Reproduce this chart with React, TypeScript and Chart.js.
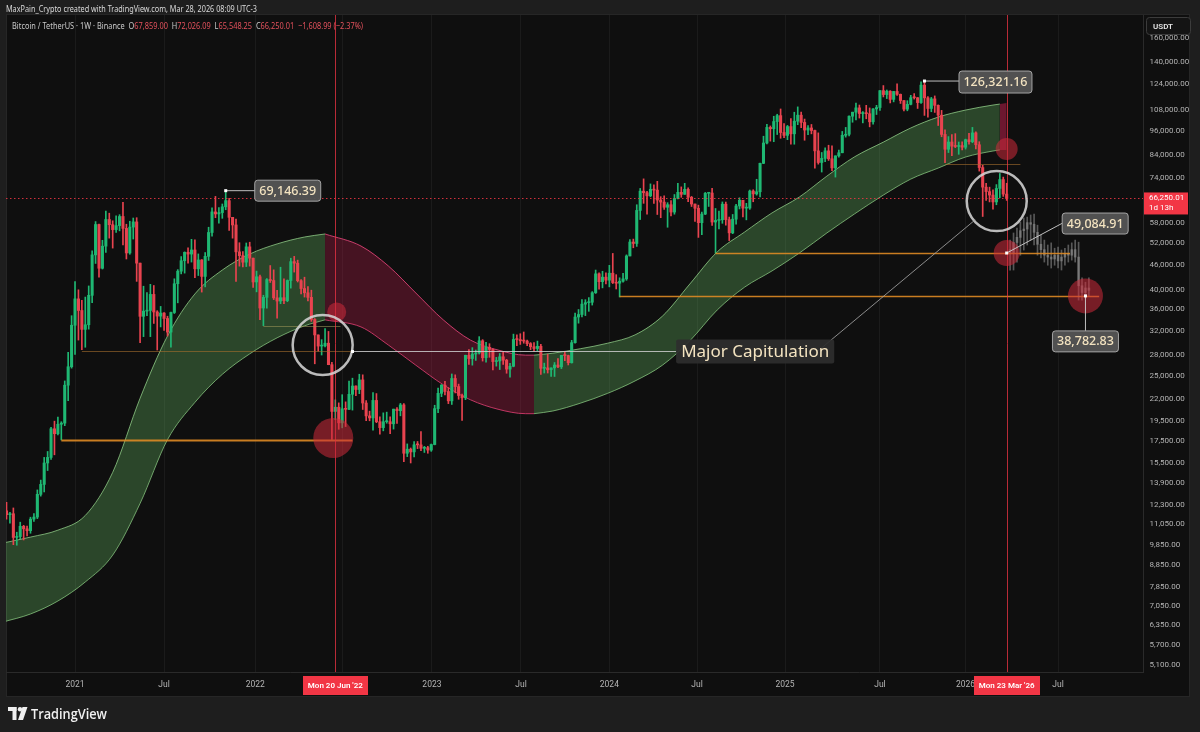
import React, { useEffect, useRef } from "react";
import { Chart, registerables } from "chart.js";

Chart.register(...registerables);

// ================= DATA =================
// Weekly BTC/USDT candles (Binance, 1W). Week 0 = Mon 17 Aug 2020. Values in thousands of USDT.
const FIRST_OPEN_K = 11.9;

const weeklyCloseK = [
  // 2020 (w0..19)
  11.65, 11.71, 10.28, 10.33, 10.93, 10.78, 10.67, 11.37, 11.5, 13.03, 13.76, 15.48, 15.96, 18.68, 18.18, 19.15, 19.27, 23.74, 26.27, 33.0,
  // 2021 (w20..71)
  38.15, 35.79, 32.26, 33.09, 38.9, 48.58, 57.41, 45.14, 50.97, 59.02, 57.35, 55.82, 57.06, 60.0, 56.2, 49.1, 56.6, 58.24, 46.43, 34.66,
  35.66, 35.8, 39.1, 35.5, 34.7, 35.29, 34.25, 31.78, 35.4, 41.46, 44.42, 47.05, 49.27, 48.8, 49.92, 45.0, 47.25, 43.16, 48.2, 54.95,
  61.53, 60.85, 61.3, 63.27, 65.47, 59.72, 57.27, 49.4, 48.38, 46.68, 50.78, 47.72,
  // 2022 (w72..123)
  41.86, 43.08, 36.28, 38.47, 42.41, 42.2, 38.36, 37.7, 38.4, 37.78, 42.2, 46.82, 46.41, 42.16, 40.38, 39.45, 38.47, 34.07, 31.29, 29.43,
  29.47, 29.9, 26.57, 20.55, 21.03, 19.3, 20.85, 20.79, 22.58, 23.63, 23.18, 24.44, 21.52, 20.05, 19.83, 21.83, 19.42, 18.8, 19.42, 19.42,
  19.2, 20.81, 20.63, 21.3, 16.33, 16.7, 16.45, 17.11, 17.1, 16.78, 16.84, 16.62,
  // 2023 (w124..175)
  17.13, 20.87, 22.7, 23.74, 22.93, 21.78, 24.63, 23.56, 22.43, 22.15, 27.98, 27.48, 28.17, 28.33, 30.3, 27.6, 29.23, 28.9, 27.03, 27.12,
  27.75, 27.23, 25.93, 26.34, 30.53, 30.5, 30.3, 30.25, 29.83, 29.33, 29.04, 29.4, 26.05, 26.1, 25.84, 26.1, 26.52, 26.26, 27.97, 27.93,
  26.86, 29.99, 34.53, 35.01, 37.06, 37.36, 37.45, 39.46, 43.78, 41.93, 42.99, 42.28,
  // 2024 (w176..227)
  43.93, 41.73, 41.58, 42.03, 42.58, 48.3, 52.14, 51.73, 62.03, 68.96, 68.37, 67.21, 69.65, 69.36, 65.67, 64.94, 63.12, 64.01, 61.48, 66.27,
  68.51, 67.77, 69.65, 66.68, 64.26, 62.77, 57.99, 60.8, 68.16, 68.26, 58.2, 58.71, 58.93, 64.2, 58.97, 54.84, 59.12, 63.58, 65.6, 62.82,
  62.85, 69.0, 67.94, 68.73, 80.37, 89.86, 97.9, 97.18, 101.11, 104.46, 95.19, 93.71,
  // 2025 (w228..279)
  98.36, 94.51, 101.3, 104.71, 100.63, 96.5, 97.6, 96.25, 86.06, 80.73, 82.58, 86.07, 82.39, 78.37, 83.73, 85.17, 93.75, 94.28, 104.12, 106.45,
  109.0, 105.64, 105.73, 105.56, 100.96, 108.38, 109.2, 119.83, 117.27, 119.45, 114.2, 119.29, 117.4, 113.49, 108.25, 111.14, 115.27, 115.23, 112.2, 123.51,
  115.17, 108.64, 114.53, 110.54, 104.72, 94.2, 86.83, 90.36, 88.3, 88.15, 88.6, 87.8,
  // 2026 (w280..291)
  91.5, 90.5, 95.0, 89.0, 78.5, 70.5, 68.8, 67.5, 65.0, 70.0, 73.5, 67.859,
];

const weeklyHighK = [
  12.47, 11.8, 12.09, 10.58, 11.18, 10.99, 10.95, 11.49, 11.72, 13.35, 14.09, 15.96, 16.49, 18.82, 19.48, 19.92, 19.42, 24.3, 28.42, 34.78,
  41.95, 40.1, 37.85, 38.53, 40.96, 49.71, 58.35, 57.53, 52.64, 61.84, 61.1, 58.6, 60.2, 60.6, 64.85, 57.5, 58.45, 59.5, 59.6, 45.8,
  40.9, 39.48, 41.33, 41.06, 35.75, 36.6, 35.4, 34.68, 35.5, 42.6, 44.8, 48.14, 49.4, 50.5, 52.92, 52.74, 48.84, 47.35, 49.22, 56.56,
  62.93, 67.0, 63.0, 64.27, 69.0, 66.28, 59.45, 59.18, 51.94, 49.5, 51.87, 52.09,
  47.57, 44.44, 43.5, 38.92, 42.66, 45.82, 44.75, 40.0, 45.4, 42.59, 42.33, 47.7, 48.19, 47.2, 42.42, 42.98, 40.8, 40.02, 34.24, 30.67,
  30.49, 32.4, 31.9, 26.9, 21.9, 21.54, 22.53, 21.66, 24.28, 24.67, 23.65, 25.21, 25.13, 21.82, 20.58, 22.8, 22.67, 19.95, 20.39, 20.47,
  19.95, 19.7, 20.99, 21.48, 21.47, 17.19, 16.81, 17.42, 17.42, 18.39, 16.96, 16.97,
  17.18, 21.26, 23.37, 23.82, 24.25, 23.42, 25.25, 25.13, 23.88, 22.6, 28.0, 28.87, 29.18, 28.8, 31.0, 30.49, 30.04, 29.82, 29.0, 27.66,
  28.26, 28.45, 27.36, 26.78, 31.43, 31.3, 31.5, 31.8, 30.4, 30.0, 30.0, 30.25, 29.7, 26.8, 28.14, 26.1, 26.89, 27.48, 27.98, 28.6,
  28.0, 30.38, 35.28, 35.98, 38.0, 37.98, 38.42, 39.7, 44.7, 44.0, 44.4, 44.0,
  45.88, 48.97, 43.58, 42.84, 43.88, 48.59, 52.82, 52.99, 64.0, 70.0, 73.78, 68.92, 71.77, 71.36, 72.8, 66.9, 67.23, 64.73, 65.5, 67.7,
  71.98, 70.6, 71.99, 70.19, 67.0, 63.37, 63.86, 61.43, 68.49, 68.25, 70.08, 62.7, 61.8, 65.0, 64.96, 59.81, 60.67, 64.13, 66.5, 65.55,
  64.5, 69.4, 69.5, 73.62, 80.5, 93.27, 99.59, 98.69, 104.09, 105.25, 108.35, 99.96,
  98.98, 102.72, 106.42, 109.59, 106.45, 102.5, 98.83, 99.5, 96.5, 95.0, 85.3, 87.45, 88.77, 88.5, 83.59, 86.42, 95.76, 97.9, 104.36, 105.82,
  111.98, 110.72, 106.8, 110.53, 108.95, 108.53, 110.53, 119.49, 123.22, 120.25, 119.8, 119.31, 124.47, 117.63, 113.5, 113.38, 116.78, 117.9, 115.4, 125.7,
  126.32116, 116.0, 115.47, 116.4, 110.8, 107.5, 96.64, 93.09, 94.15, 94.6, 90.36, 90.4,
  91.8, 94.8, 97.9, 95.5, 90.5, 79.5, 72.0, 70.5, 69.5, 71.5, 76.0, 74.5,
];

const weeklyLowK = [
  11.37, 11.12, 9.88, 9.85, 10.21, 10.14, 10.37, 10.52, 11.22, 11.4, 12.9, 13.2, 14.85, 15.79, 16.19, 18.07, 17.57, 19.0, 21.81, 26.07,
  28.13, 30.42, 28.85, 29.24, 32.3, 37.35, 46.35, 43.0, 44.95, 49.27, 53.27, 50.43, 54.97, 55.45, 51.3, 47.5, 48.75, 53.0, 42.0, 30.0,
  31.0, 34.8, 31.0, 33.33, 28.8, 32.7, 32.08, 31.1, 29.27, 35.2, 37.33, 43.77, 43.95, 46.45, 46.7, 42.84, 43.37, 39.6, 40.75, 47.12,
  53.88, 59.6, 57.8, 59.4, 62.27, 55.6, 53.26, 42.0, 45.67, 45.5, 45.56, 45.68,
  40.61, 39.65, 34.01, 32.92, 36.25, 41.75, 38.0, 34.32, 37.15, 37.16, 37.56, 40.47, 44.2, 41.86, 39.2, 38.53, 37.7, 33.71, 26.7, 28.63,
  28.02, 29.28, 26.56, 17.62, 19.64, 18.63, 18.78, 18.91, 20.76, 20.7, 22.4, 22.66, 20.77, 19.52, 19.52, 18.54, 19.32, 18.13, 18.47, 19.26,
  18.19, 18.65, 19.25, 20.06, 15.59, 16.03, 15.48, 16.0, 16.75, 16.56, 16.4, 16.33,
  16.5, 17.1, 20.4, 22.29, 22.5, 21.45, 21.35, 22.75, 21.97, 19.55, 21.92, 26.6, 26.5, 27.2, 28.17, 27.1, 26.94, 27.67, 25.81, 26.36,
  25.87, 26.61, 25.35, 24.8, 26.26, 29.5, 29.7, 29.9, 29.5, 28.86, 28.6, 28.7, 25.17, 25.38, 25.38, 24.9, 24.9, 26.12, 26.0, 27.16,
  26.53, 26.8, 29.9, 33.38, 34.56, 34.8, 35.63, 36.87, 39.3, 40.22, 40.53, 41.4,
  40.75, 41.5, 40.28, 38.55, 41.8, 42.25, 48.3, 50.52, 50.9, 59.0, 64.5, 60.77, 66.85, 64.5, 60.66, 59.6, 62.4, 56.55, 60.19, 60.75,
  66.05, 66.67, 68.58, 65.08, 63.38, 58.4, 53.48, 54.26, 60.63, 63.4, 57.12, 49.0, 56.07, 57.79, 57.2, 52.55, 54.59, 57.49, 62.54, 59.83,
  58.9, 62.4, 65.06, 67.48, 66.84, 80.22, 89.37, 90.79, 90.5, 94.15, 92.23, 92.5,
  91.53, 89.26, 89.26, 99.4, 97.78, 91.23, 94.09, 94.5, 78.26, 80.0, 76.6, 81.13, 81.64, 77.15, 74.51, 83.1, 85.15, 92.8, 93.38, 100.72,
  102.0, 103.06, 100.37, 102.66, 98.2, 99.61, 105.1, 107.47, 115.74, 114.72, 112.0, 112.65, 116.8, 111.68, 107.26, 107.26, 110.8, 114.4, 108.65, 111.7,
  104.58, 103.53, 106.7, 106.3, 98.94, 93.0, 80.6, 85.27, 83.82, 87.6, 84.45, 86.5,
  86.9, 89.3, 90.0, 87.0, 77.0, 60.0, 65.5, 65.0, 62.5, 64.0, 66.5, 67.0,
];

// Current (unfinished) weekly bar: Mon 23 Mar 2026
const CURRENT_WEEK = 292;
const LAST_OPEN = 67859.0;
const LAST_HIGH = 72026.09;
const LAST_LOW = 65548.25;
const LAST_CLOSE = 66250.01;
const BAR_COUNTDOWN = "1d 13h";

// Projected (ghost) path, weeks 293..316, thousands USDT
const GHOST_START_WEEK = 293;
const ghostOpenK = [50.0, 49.0, 52.0, 53.5, 55.5, 56.0, 58.0, 57.5, 55.0, 51.5, 50.0, 48.5, 48.0, 47.5, 48.5, 47.0, 48.0, 49.0, 48.5, 50.0, 48.0, 41.0, 39.5, 40.5];
const ghostHighK = [52.7, 54.8, 56.3, 58.2, 59.5, 59.8, 60.5, 60.8, 57.2, 54.2, 52.7, 51.3, 51.9, 50.4, 50.7, 49.9, 50.4, 51.3, 51.9, 52.7, 52.1, 42.8, 41.8, 42.8];
const ghostLowK = [44.7, 44.7, 46.7, 48.5, 49.9, 51.3, 52.7, 51.3, 48.5, 47.8, 46.7, 45.9, 45.2, 45.9, 45.2, 44.7, 45.9, 46.7, 47.2, 46.7, 37.9, 37.9, 38.3, 38.8];
const ghostCloseK = [49.0, 52.0, 53.5, 55.5, 56.0, 58.0, 57.5, 55.0, 51.5, 50.0, 48.5, 48.0, 47.5, 48.5, 47.0, 48.0, 49.0, 48.5, 50.0, 48.0, 41.0, 39.5, 40.5, 40.0];

// Cycle band (thousands USDT), four colour segments
const bandG1Weeks = [-1, 7, 15, 23, 31, 39, 47, 55, 63, 71, 79, 87, 93];
const bandG1Upper = [9.97, 10.3, 10.7, 11.6, 14.7, 22.1, 31.1, 39.2, 44.7, 48.8, 51.6, 53.6, 54.5];
const bandG1Lower = [6.46, 6.75, 7.25, 8.05, 9.33, 12.4, 17.6, 21.6, 25.2, 28.2, 30.8, 32.9, 34.0];

const bandR1Weeks = [93, 103.5, 111.5, 119.5, 127.5, 135.5, 143.5, 151.5, 154];
const bandR1Upper = [54.5, 51.0, 45.7, 39.4, 34.0, 30.4, 28.8, 28.0, 28.0];
const bandR1Lower = [34.0, 32.7, 29.6, 26.5, 23.8, 21.9, 20.8, 20.3, 20.3];

const bandG2Weeks = [154, 159.5, 167.5, 175.5, 183.5, 191.5, 199.5, 207.5, 215.5, 223.5, 231.5, 239.5, 247.5, 256, 264, 272, 280, 288, 290];
const bandG2Upper = [28.0, 28.3, 29.0, 29.9, 31.3, 34.7, 41.4, 49.4, 55.1, 61.2, 66.8, 74.9, 83.2, 90.3, 97.6, 103.6, 107.7, 110.7, 111.3];
const bandG2Lower = [20.3, 20.6, 21.5, 22.7, 24.3, 26.5, 30.3, 35.9, 40.7, 44.5, 49.1, 54.8, 60.8, 67.5, 73.7, 78.3, 83.2, 86.0, 86.5];

const bandR2Weeks = [290, 292];
const bandR2Upper = [111.3, 112.0];
const bandR2Lower = [86.5, 86.5];

// Axes
const priceTicks = [
  160000, 140000, 124000, 108000, 96000, 84000, 74000, 58000, 52000, 46000, 40000, 36000, 32000, 28000, 25000,
  22000, 19500, 17500, 15500, 13900, 12300, 11050, 9850, 8850, 7850, 7050, 6350, 5700, 5100,
];
const timeTickWeeks = [20, 46, 72.6, 98, 124.2, 150.2, 176, 201.6, 227.3, 255, 280, 307];
const timeTickLabels = ["2021", "Jul", "2022", "Jul", "2023", "Jul", "2024", "Jul", "2025", "Jul", "2026", "Jul"];
const X_MIN = -0.15;
const X_MAX = 331.8;
const Y_MIN = 4907;
const Y_MAX = 181600;

// Annotations (week index, price in USDT)
const markedWeeks = [96, 292];
const markedDateLabels = ["Mon 20 Jun '22", "Mon 23 Mar '26"];

const calloutWeeks = [64, 268, 292, 315];
const calloutPrices = [69146.39, 126321.16, 49084.91, 38782.83];

const capitulationPrice = 28650;
const capitulationFromWeek = 101;
const capitulationToWeek = 195.5;
const capitulationText = "Major Capitulation";
const diagonalWeeks = [236.9, 282.8];
const diagonalPrices = [28650, 58900];

const levelFromWeeks = [16, 207, 179, 22, 75, 274];
const levelToWeeks = [101, 310.5, 319, 101, 97.5, 296];
const levelPrices = [17600, 49000, 38700, 28650, 32900, 80000];
const levelStrong = [true, true, true, false, false, false];

const redDotWeeks = [96.4, 95.4, 292, 292, 315];
const redDotPrices = [35500, 17760, 86900, 49084.91, 38782.83];
const redDotRadii = [9.5, 20, 11, 13, 17.5];

const ringWeeks = [92.3, 289.1];
const ringPrices = [29600, 65300];

// ================= STYLE =================
const UP = "#1fb873";
const DOWN = "#e8434f";
const GHOST = "rgba(150,150,150,0.55)";
const TV_RED = "#f23645";
const CREAM = "#f3e3c0";
const AXIS_TEXT = "#b4b4b4";

function fitText(ctx: any, segs: [string, string][], x: number, y: number, width: number, font: string) {
  ctx.save();
  ctx.font = font;
  const total = segs.reduce((s, [t]) => s + ctx.measureText(t).width, 0);
  const sx = width / total;
  ctx.translate(x, y);
  ctx.scale(sx, 1);
  ctx.textAlign = "left";
  ctx.textBaseline = "alphabetic";
  let cx = 0;
  for (const [t, c] of segs) {
    ctx.fillStyle = c;
    ctx.fillText(t, cx, 0);
    cx += ctx.measureText(t).width;
  }
  ctx.restore();
}

function roundRect(ctx: any, x: number, y: number, w: number, h: number, r: number) {
  ctx.beginPath();
  ctx.moveTo(x + r, y);
  ctx.lineTo(x + w - r, y);
  ctx.quadraticCurveTo(x + w, y, x + w, y + r);
  ctx.lineTo(x + w, y + h - r);
  ctx.quadraticCurveTo(x + w, y + h, x + w - r, y + h);
  ctx.lineTo(x + r, y + h);
  ctx.quadraticCurveTo(x, y + h, x, y + h - r);
  ctx.lineTo(x, y + r);
  ctx.quadraticCurveTo(x, y, x + r, y);
  ctx.closePath();
}

function drawCallout(ctx: any, text: string, bx: number, by: number, bw: number, bh: number) {
  roundRect(ctx, bx, by, bw, bh, 3);
  ctx.fillStyle = "rgba(84,84,84,0.96)";
  ctx.fill();
  ctx.strokeStyle = "rgba(175,175,175,0.9)";
  ctx.lineWidth = 1;
  ctx.stroke();
  ctx.fillStyle = CREAM;
  ctx.font = '500 12.5px "Noto Sans"';
  ctx.textAlign = "center";
  ctx.textBaseline = "middle";
  ctx.fillText(text, bx + bw / 2, by + bh / 2 + 0.5);
}

function dot(ctx: any, x: number, y: number) {
  ctx.fillStyle = "#ffffff";
  ctx.fillRect(x - 1.5, y - 1.5, 3, 3);
}

const decor = {
  id: "decor",
  beforeDraw(chart: any) {
    const { ctx, width, height } = chart;
    ctx.save();
    ctx.fillStyle = "#1e1e1e";
    ctx.fillRect(0, 0, width, height);
    ctx.fillStyle = "#0f0f0f";
    ctx.fillRect(6, 14, 1184, 683);
    ctx.strokeStyle = "#262626";
    ctx.lineWidth = 1;
    ctx.strokeRect(6.5, 14.5, 1183, 682);
    ctx.restore();
  },
  afterDatasetsDraw(chart: any) {
    const { ctx, chartArea: ca } = chart;
    const xs = chart.scales.x;
    const ys = chart.scales.y;
    const X = (w: number) => xs.getPixelForValue(w);
    const Y = (p: number) => ys.getPixelForValue(p);
    ctx.save();
    ctx.beginPath();
    ctx.rect(ca.left, ca.top, ca.right - ca.left, ca.bottom - ca.top);
    ctx.clip();

    // horizontal levels
    levelPrices.forEach((p, i) => {
      const strong = levelStrong[i];
      ctx.strokeStyle = strong ? "rgba(222,138,36,0.9)" : i === 4 ? "rgba(150,145,85,0.6)" : "rgba(165,110,45,0.6)";
      ctx.lineWidth = strong ? (i === 0 ? 2 : 1.6) : 1;
      ctx.beginPath();
      ctx.moveTo(X(levelFromWeeks[i]), Math.round(Y(p)) + 0.5);
      ctx.lineTo(X(levelToWeeks[i]), Math.round(Y(p)) + 0.5);
      ctx.stroke();
    });

    // current price dotted line
    const yc = Math.round(Y(LAST_CLOSE)) + 0.5;
    ctx.save();
    ctx.setLineDash([1.5, 2.5]);
    ctx.strokeStyle = "rgba(242,54,69,0.85)";
    ctx.lineWidth = 1;
    ctx.beginPath();
    ctx.moveTo(ca.left, yc);
    ctx.lineTo(ca.right, yc);
    ctx.stroke();
    ctx.restore();

    // vertical marker lines
    markedWeeks.forEach((w) => {
      const x = Math.round(X(w)) + 0.5;
      ctx.strokeStyle = "rgba(242,54,69,0.75)";
      ctx.lineWidth = 1;
      ctx.beginPath();
      ctx.moveTo(x, ca.top);
      ctx.lineTo(x, ca.bottom);
      ctx.stroke();
    });

    // red translucent dots
    redDotWeeks.forEach((w, i) => {
      ctx.fillStyle = "rgba(205,42,58,0.55)";
      ctx.beginPath();
      ctx.arc(X(w), Y(redDotPrices[i]), redDotRadii[i], 0, Math.PI * 2);
      ctx.fill();
    });

    // rings
    ringWeeks.forEach((w, i) => {
      ctx.strokeStyle = "rgba(212,212,212,0.88)";
      ctx.lineWidth = 2.5;
      ctx.beginPath();
      ctx.arc(X(w), Y(ringPrices[i]), 30, 0, Math.PI * 2);
      ctx.stroke();
    });

    // capitulation line + diagonal
    ctx.strokeStyle = "rgba(205,205,205,0.85)";
    ctx.lineWidth = 1;
    const yCap = Math.round(Y(capitulationPrice)) + 0.5;
    ctx.beginPath();
    ctx.moveTo(X(capitulationFromWeek), yCap);
    ctx.lineTo(X(capitulationToWeek), yCap);
    ctx.stroke();
    ctx.strokeStyle = "rgba(170,170,170,0.8)";
    ctx.beginPath();
    ctx.moveTo(X(diagonalWeeks[0]), Y(diagonalPrices[0]));
    ctx.lineTo(X(diagonalWeeks[1]), Y(diagonalPrices[1]));
    ctx.stroke();
    dot(ctx, X(capitulationFromWeek), yCap);

    // callout connectors & boxes
    const c0 = { x: X(calloutWeeks[0]), y: Y(calloutPrices[0]) };
    const c1 = { x: X(calloutWeeks[1]), y: Y(calloutPrices[1]) };
    const c2 = { x: X(calloutWeeks[2]), y: Y(calloutPrices[2]) };
    const c3 = { x: X(calloutWeeks[3]), y: Y(calloutPrices[3]) };
    ctx.strokeStyle = "rgba(210,210,210,0.9)";
    ctx.lineWidth = 1;
    ctx.beginPath();
    ctx.moveTo(c0.x, c0.y); ctx.lineTo(c0.x + 30, c0.y);
    ctx.moveTo(c1.x, c1.y); ctx.lineTo(c1.x + 35, c1.y);
    ctx.moveTo(c2.x, c2.y); ctx.lineTo(c2.x + 56, c2.y - 30);
    ctx.moveTo(c3.x, c3.y); ctx.lineTo(c3.x, c3.y + 35);
    ctx.stroke();
    [c0, c1, c2, c3].forEach((c) => dot(ctx, c.x, c.y));

    const fmt = (v: number) => v.toLocaleString("en-US", { minimumFractionDigits: 2, maximumFractionDigits: 2 });
    drawCallout(ctx, fmt(calloutPrices[0]), c0.x + 29, c0.y - 10.5, 66, 21);
    drawCallout(ctx, fmt(calloutPrices[1]), c1.x + 34.5, c1.y - 10, 73, 22);
    drawCallout(ctx, fmt(calloutPrices[2]), c2.x + 55.5, c2.y - 40, 66, 21);
    drawCallout(ctx, fmt(calloutPrices[3]), c3.x - 33, c3.y + 35, 66, 21);

    // Major Capitulation label
    const lx = X(capitulationToWeek);
    ctx.font = '17px "Noto Sans"';
    const tw = ctx.measureText(capitulationText).width;
    roundRect(ctx, lx, yCap - 12, tw + 10, 24, 2);
    ctx.fillStyle = "rgba(46,46,46,0.92)";
    ctx.fill();
    ctx.fillStyle = CREAM;
    ctx.textAlign = "left";
    ctx.textBaseline = "middle";
    ctx.fillText(capitulationText, lx + 5, yCap + 0.5);

    ctx.restore();
  },
  afterDraw(chart: any) {
    const { ctx, chartArea: ca } = chart;
    const xs = chart.scales.x;
    const ys = chart.scales.y;
    ctx.save();

    // price label on axis
    const yc = ys.getPixelForValue(LAST_CLOSE);
    ctx.fillStyle = TV_RED;
    ctx.fillRect(ca.right + 1, yc - 6, 44, 22);
    ctx.fillStyle = "#ffffff";
    ctx.font = '8px "Roboto"';
    ctx.textAlign = "left";
    ctx.textBaseline = "middle";
    ctx.fillText(LAST_CLOSE.toLocaleString("en-US", { minimumFractionDigits: 2 }), ca.right + 6, yc);
    ctx.fillText(BAR_COUNTDOWN, ca.right + 6, yc + 10);

    // date labels on time axis
    markedWeeks.forEach((w, i) => {
      const x = xs.getPixelForValue(w);
      ctx.font = '600 8px "Roboto"';
      const t = markedDateLabels[i];
      const tw = ctx.measureText(t).width + 10;
      ctx.fillStyle = TV_RED;
      ctx.fillRect(Math.round(x - tw / 2), ca.bottom + 4, Math.round(tw), 19);
      ctx.fillStyle = "#ffffff";
      ctx.textAlign = "center";
      ctx.textBaseline = "middle";
      ctx.fillText(t, x, ca.bottom + 13.5);
    });

    // USDT box
    roundRect(ctx, 1146.5, 17.5, 44, 17, 3);
    ctx.fillStyle = "#141414";
    ctx.fill();
    ctx.strokeStyle = "#3c3c3c";
    ctx.lineWidth = 1;
    ctx.stroke();
    ctx.fillStyle = "#e6e6e6";
    ctx.font = '600 8px "Roboto"';
    ctx.textAlign = "left";
    ctx.textBaseline = "middle";
    ctx.fillText("USDT", 1153, 26.5);

    // header text
    fitText(ctx, [["MaxPain_Crypto created with TradingView.com, Mar 28, 2026 08:09 UTC-3", "#d9d9d9"]], 6, 11.5, 251, '9px "Noto Sans"');
    const fmt = (v: number) => v.toLocaleString("en-US", { minimumFractionDigits: 2, maximumFractionDigits: 2 });
    const chg = LAST_CLOSE - LAST_OPEN;
    const pct = (chg / LAST_OPEN) * 100;
    const red = "#e2515c";
    const lt = "#c9c9c9";
    fitText(
      ctx,
      [
        ["Bitcoin / TetherUS · 1W · Binance  ", lt],
        ["O", lt], [fmt(LAST_OPEN), red],
        ["  H", lt], [fmt(LAST_HIGH), red],
        ["  L", lt], [fmt(LAST_LOW), red],
        ["  C", lt], [fmt(LAST_CLOSE), red],
        ["  " + (chg < 0 ? "−" : "+") + fmt(Math.abs(chg)) + " (" + (pct < 0 ? "−" : "+") + Math.abs(pct).toFixed(2) + "%)", red],
      ],
      12, 28.5, 351, '9px "Noto Sans"'
    );

    // TradingView logo
    ctx.fillStyle = "#f0f0f0";
    ctx.fillRect(8, 707, 8.5, 4);
    ctx.fillRect(12.5, 707, 4, 13);
    ctx.beginPath();
    ctx.arc(20, 709.2, 2.2, 0, Math.PI * 2);
    ctx.fill();
    ctx.beginPath();
    ctx.moveTo(22.5, 707);
    ctx.lineTo(27.5, 707);
    ctx.lineTo(23, 720);
    ctx.lineTo(18, 720);
    ctx.closePath();
    ctx.fill();
    fitText(ctx, [["TradingView", "#f0f0f0"]], 31, 719, 76, '600 15px "Open Sans"');

    ctx.restore();
  },
};

function buildCandles() {
  const rows: { w: number; o: number; h: number; l: number; c: number }[] = weeklyCloseK.map((c, i) => ({
    w: i,
    o: (i === 0 ? FIRST_OPEN_K : weeklyCloseK[i - 1]) * 1000,
    h: weeklyHighK[i] * 1000,
    l: weeklyLowK[i] * 1000,
    c: c * 1000,
  }));
  rows.push({ w: CURRENT_WEEK, o: LAST_OPEN, h: LAST_HIGH, l: LAST_LOW, c: LAST_CLOSE });
  return rows;
}

function buildGhost() {
  return ghostCloseK.map((c, i) => ({
    w: GHOST_START_WEEK + i,
    o: ghostOpenK[i] * 1000,
    h: ghostHighK[i] * 1000,
    l: ghostLowK[i] * 1000,
    c: c * 1000,
  }));
}

function bandPair(weeks: number[], upper: number[], lower: number[], fillColor: string, edgeColor: string) {
  const common = {
    type: "line" as const,
    pointRadius: 0,
    borderWidth: 1,
    borderColor: edgeColor,
    cubicInterpolationMode: "monotone" as const,
    order: 10,
  };
  return [
    { ...common, data: weeks.map((w, i) => ({ x: w, y: upper[i] * 1000 })), fill: "+1", backgroundColor: fillColor },
    { ...common, data: weeks.map((w, i) => ({ x: w, y: lower[i] * 1000 })), fill: false },
  ];
}

export default function App() {
  const ref = useRef<HTMLCanvasElement>(null);
  useEffect(() => {
    const canvas = ref.current;
    if (!canvas) return;
    const candles = buildCandles();
    const ghost = buildGhost();
    const GREEN_FILL = "rgba(100,178,96,0.34)";
    const GREEN_EDGE = "rgba(150,212,140,0.75)";
    const RED_FILL = "rgba(178,30,72,0.34)";
    const RED_EDGE = "rgba(226,68,120,0.85)";

    const datasets: any[] = [
      ...bandPair(bandG1Weeks, bandG1Upper, bandG1Lower, GREEN_FILL, GREEN_EDGE),
      ...bandPair(bandR1Weeks, bandR1Upper, bandR1Lower, RED_FILL, RED_EDGE),
      ...bandPair(bandG2Weeks, bandG2Upper, bandG2Lower, GREEN_FILL, GREEN_EDGE),
      ...bandPair(bandR2Weeks, bandR2Upper, bandR2Lower, "rgba(170,28,68,0.6)", "rgba(170,28,68,0.0)"),
      {
        type: "bar",
        data: candles.map((k) => ({ x: k.w, y: [Math.min(k.l, k.o, k.c), Math.max(k.h, k.o, k.c)] })),
        backgroundColor: candles.map((k) => (k.c >= k.o ? UP : DOWN)),
        barThickness: 1,
        grouped: false,
        order: 3,
      },
      {
        type: "bar",
        data: candles.map((k) => ({ x: k.w, y: [k.o, k.c] })),
        backgroundColor: candles.map((k) => (k.c >= k.o ? UP : DOWN)),
        barThickness: 2.4,
        minBarLength: 1,
        grouped: false,
        order: 2,
      },
      {
        type: "bar",
        data: ghost.map((k) => ({ x: k.w, y: [k.l, k.h] })),
        backgroundColor: GHOST,
        barThickness: 1,
        grouped: false,
        order: 3,
      },
      {
        type: "bar",
        data: ghost.map((k) => ({ x: k.w, y: [k.o, k.c] })),
        backgroundColor: GHOST,
        barThickness: 2,
        minBarLength: 1,
        grouped: false,
        order: 2,
      },
    ];

    const chart = new Chart(canvas, {
      type: "bar",
      data: { datasets },
      options: {
        animation: false,
        responsive: false,
        maintainAspectRatio: false,
        devicePixelRatio: 1,
        layout: { padding: { left: 6, top: 15, right: 8, bottom: 35 } },
        plugins: { legend: { display: false }, tooltip: { enabled: false } },
        scales: {
          x: {
            type: "linear",
            min: X_MIN,
            max: X_MAX,
            bounds: "data",
            offset: false,
            grid: { offset: false, color: "rgba(255,255,255,0.05)", drawTicks: false },
            border: { color: "#2a2a2a" },
            afterBuildTicks: (s: any) => {
              s.ticks = timeTickWeeks.map((v) => ({ value: v }));
            },
            afterFit: (s: any) => {
              s.height = 25;
            },
            ticks: {
              autoSkip: false,
              maxRotation: 0,
              padding: 8,
              color: AXIS_TEXT,
              font: { family: "Roboto", size: 8.5 },
              callback: (_v: any, i: number) => timeTickLabels[i],
            },
          },
          y: {
            type: "logarithmic",
            position: "right",
            min: Y_MIN,
            max: Y_MAX,
            bounds: "data",
            beginAtZero: false,
            grid: { drawOnChartArea: false, drawTicks: false },
            border: { color: "#2a2a2a" },
            afterBuildTicks: (s: any) => {
              s.ticks = priceTicks.map((v) => ({ value: v }));
            },
            afterFit: (s: any) => {
              s.width = 49;
            },
            ticks: {
              autoSkip: false,
              padding: 6.5,
              color: AXIS_TEXT,
              font: { family: "Roboto", size: 8 },
              callback: (v: any) =>
                Number(v).toLocaleString("en-US", { minimumFractionDigits: 2, maximumFractionDigits: 2 }),
            },
          },
        },
      } as any,
      plugins: [decor],
    } as any);
    return () => chart.destroy();
  }, []);

  return (
    <div style={{ position: "fixed", left: 0, top: 0, width: 1200, height: 732, background: "#1e1e1e" }}>
      <canvas ref={ref} width={1200} height={732} style={{ display: "block", width: 1200, height: 732 }} />
    </div>
  );
}
